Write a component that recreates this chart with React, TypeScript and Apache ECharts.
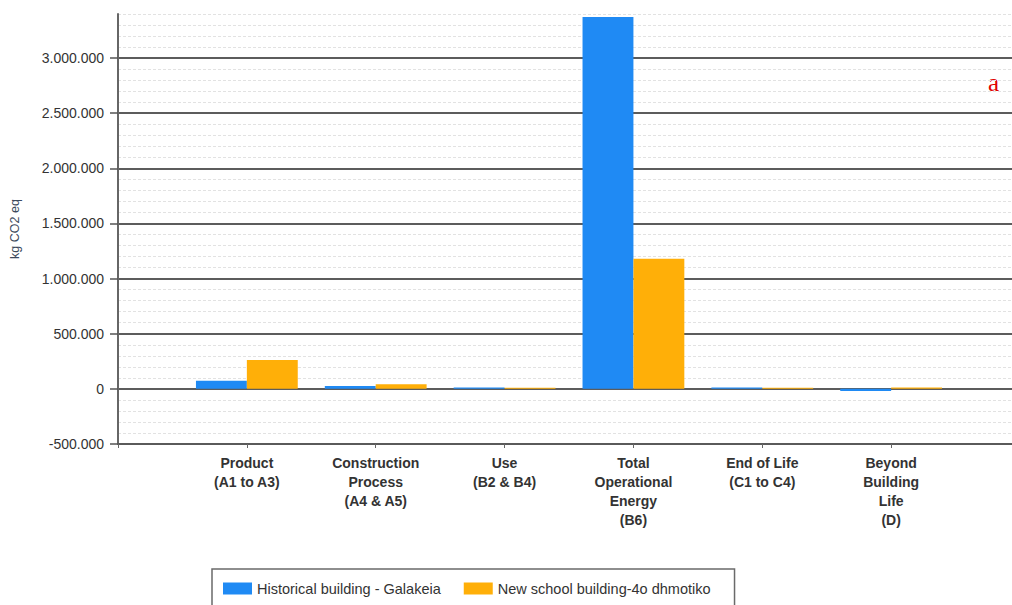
import React, { useEffect, useRef } from "react";
import * as echarts from "echarts";

const categories = [
  "",
  "Product\n(A1 to A3)",
  "Construction\nProcess\n(A4 & A5)",
  "Use\n(B2 & B4)",
  "Total\nOperational\nEnergy\n(B6)",
  "End of Life\n(C1 to C4)",
  "Beyond\nBuilding\nLife\n(D)",
  "",
];
const seriesNames = ["Historical building - Galakeia", "New school building-4o dhmotiko"];
const historical = [null, 73000, 27000, 12000, 3372000, 12000, -20000, null];
const newSchool = [null, 261000, 43000, 10000, 1181000, 10000, 12000, null];
const yTicks = [-500000, 0, 500000, 1000000, 1500000, 2000000, 2500000, 3000000];
const yMin = -500000;
const yMax = 3400000;

const fmt = (v: number) => String(v).replace(/\B(?=(\d{3})+(?!\d))/g, ".");

export default function App() {
  const ref = useRef<HTMLDivElement>(null);
  useEffect(() => {
    if (!ref.current) return;
    const chart = echarts.init(ref.current, null, { renderer: "svg" });
    const font = "'Liberation Sans', Arial, sans-serif";
    chart.setOption({
      animation: false,
      backgroundColor: "#ffffff",
      grid: { left: 117, right: 20, top: 14, bottom: 161 },
      legend: {
        data: seriesNames,
        left: 212,
        top: 569,
        orient: "horizontal",
        icon: "rect",
        itemWidth: 29,
        itemHeight: 12,
        itemGap: 23,
        padding: [12, 24, 20, 11],
        borderColor: "#6a6a6a",
        borderWidth: 1.5,
        textStyle: { fontFamily: font, fontSize: 14.5, color: "#333" },
      },
      xAxis: {
        type: "category",
        data: categories,
        boundaryGap: false,
        axisLine: { onZero: false, lineStyle: { color: "#5a5a5a", width: 2 } },
        axisTick: { length: 4, lineStyle: { color: "#666", width: 1 } },
        axisLabel: {
          interval: 0,
          fontFamily: font,
          fontSize: 14,
          fontWeight: "bold",
          lineHeight: 19,
          color: "#333",
          margin: 9,
        },
        splitLine: { show: false },
      },
      yAxis: [
        {
          type: "value",
          min: yMin,
          max: yMax,
          interval: 100000,
          position: "right",
          axisLine: { show: false },
          axisTick: { show: false },
          axisLabel: { show: false },
          splitLine: {
            show: true,
            lineStyle: { color: "#e2e2e2", width: 1, type: [3, 2] },
          },
        },
        {
          type: "value",
          min: yMin,
          max: yMax,
          interval: 500000,
          position: "left",
          name: "kg CO2 eq",
          nameLocation: "middle",
          nameGap: 97,
          nameTextStyle: { fontFamily: font, fontSize: 12.5, color: "#3c4a5c" },
          axisLine: { show: true, lineStyle: { color: "#666", width: 2 } },
          axisTick: {
            show: true,
            length: 8,
            customValues: yTicks,
            lineStyle: { color: "#555", width: 1.5 },
          },
          axisLabel: {
            customValues: yTicks,
            formatter: (v: number) => fmt(v),
            fontFamily: font,
            fontSize: 14,
            color: "#333",
            margin: 14,
          },
          splitLine: {
            show: true,
            lineStyle: { color: "#5c5c5c", width: 2 },
          },
        },
      ],
      series: [
        {
          name: seriesNames[0],
          type: "bar",
          yAxisIndex: 1,
          data: historical,
          barGap: "0%",
          barCategoryGap: "21%",
          itemStyle: { color: "#1f8af4" },
        },
        {
          name: seriesNames[1],
          type: "bar",
          yAxisIndex: 1,
          data: newSchool,
          barGap: "0%",
          barCategoryGap: "21%",
          itemStyle: { color: "#ffaf08" },
        },
      ],
      graphic: [
        {
          type: "text",
          x: 993.5,
          y: 82,
          style: {
            text: "a",
            fill: "#e00000",
            font: "25px 'Liberation Serif', serif",
            textAlign: "center",
            textVerticalAlign: "middle",
          },
        },
      ],
    });
    return () => chart.dispose();
  }, []);
  return (
    <div
      style={{
        position: "absolute",
        left: 0,
        top: 0,
        width: 1012,
        height: 605,
        overflow: "hidden",
      }}
    >
      <div ref={ref} style={{ width: 1040, height: 605 }} />
    </div>
  );
}
